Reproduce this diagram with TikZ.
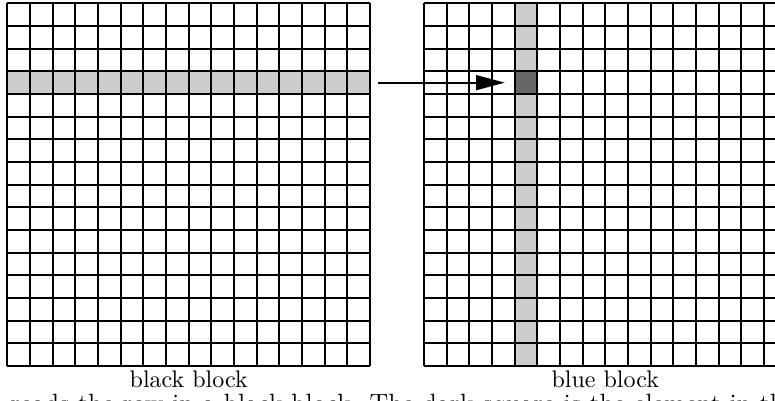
\documentclass[tikz,border=0pt]{standalone}
\usetikzlibrary{arrows.meta}
\begin{document}
\begin{tikzpicture}[x=0.4167pt,y=-0.4167pt,
  gridline/.style={line width=0.8pt,black},
  cellfill/.style={draw=none,inner sep=0pt,minimum width=9.445pt,minimum height=9.445pt},
  light/.style={cellfill,fill=black!20},
  darkfill/.style={cellfill,fill=black!60},
  arr/.style={-{Triangle[length=12pt,width=6.2pt]},line width=0.75pt},
  lbl/.style={inner sep=0pt,anchor=base}]
\useasboundingbox (0,0) rectangle (775,401);
\clip (0,0) rectangle (775,401);
% highlighted row in the left grid
\node[light,minimum width=151.1pt] (row) at (188.67,82.67) {};
% highlighted column and dark cell in the right grid
\node[light,minimum height=151.1pt] (col) at (526.0,184.67) {};
\node[darkfill] (darkc) at (526.0,82.67) {};
% grids
\foreach \i in {0,...,16}{
  \draw[gridline] (7.3+\i*22.67,3.3) -- (7.3+\i*22.67,366);
  \draw[gridline] (7.3,3.3+\i*22.67) -- (370,3.3+\i*22.67);
  \draw[gridline] (424+\i*22.67,3.3) -- (424+\i*22.67,366);
  \draw[gridline] (424,3.3+\i*22.67) -- (786.7,3.3+\i*22.67);
}
% arrow
\draw[arr,shorten <=3.2pt,shorten >=3.9pt] (row.east) -- (darkc.west);
% labels
\node[lbl] (lblack) at (188.7,387.5) {black block};
\node[lbl] (lblue) at (605.3,387.5) {blue block};
\node[font=\fontsize{11}{13}\selectfont,anchor=base west,inner sep=0pt] (cap) at (10,413) {reads the row in a black block. The dark square is the element in the column};
\end{tikzpicture}
\end{document}
